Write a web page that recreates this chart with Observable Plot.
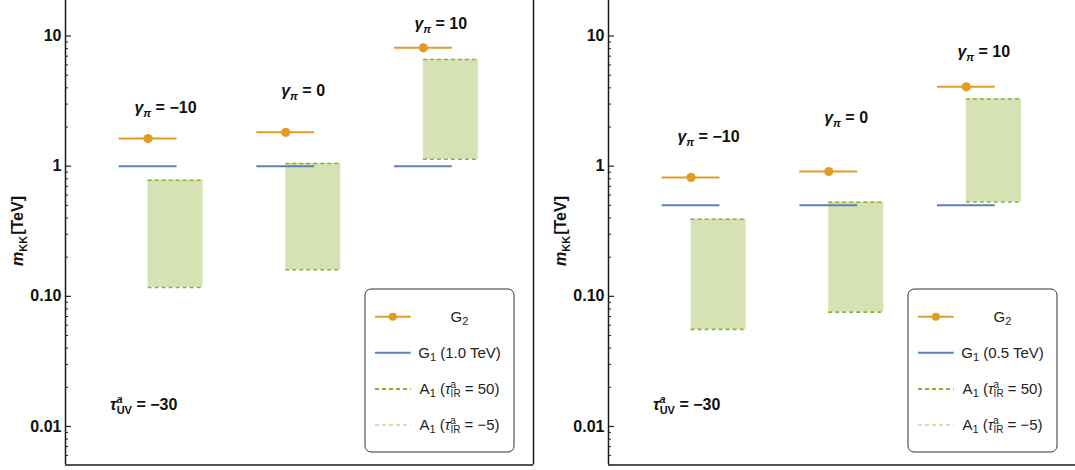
<!DOCTYPE html>
<html><head><meta charset="utf-8">
<script src="https://cdn.jsdelivr.net/npm/d3@7"></script>
<script src="https://cdn.jsdelivr.net/npm/@observablehq/plot@0.6"></script>
<style>
html,body{margin:0;padding:0;background:#fff;overflow:hidden;}
#wrap{position:relative;width:1075px;height:470px;overflow:hidden;}
#wrap svg{position:absolute;top:0;}
</style></head><body><div id="wrap"></div>
<script>
// ---- data ----
const gammaPi = [-10, 0, 10];
const groupX = [1, 2, 3];
const gammaLabels = ["−10", "0", "10"];

const leftG2 = [1.63, 1.82, 8.13];
const leftG1 = [1.0, 1.0, 1.0];
const leftA1top = [0.78, 1.05, 6.61];
const leftA1bot = [0.117, 0.160, 1.13];
const leftLabelY = [2.79, 3.8, 12.3];

const rightG2 = [0.819, 0.91, 4.07];
const rightG1 = [0.5, 0.5, 0.5];
const rightA1top = [0.391, 0.529, 3.28];
const rightA1bot = [0.0557, 0.0757, 0.531];
const rightLabelY = [1.68, 2.33, 7.57];

const majorTicks = [0.01, 0.1, 1, 10];
const majorTickLabels = ["0.01", "0.10", "1", "10"];
const minorTicks = [0.006, 0.007, 0.008, 0.009,
  0.02, 0.03, 0.04, 0.05, 0.06, 0.07, 0.08, 0.09,
  0.2, 0.3, 0.4, 0.5, 0.6, 0.7, 0.8, 0.9,
  2, 3, 4, 5, 6, 7, 8, 9];

const xDomain = [0.4, 3.8];
const yDomain = [0.00506, 18.75];
const tauUV = "−30";
const tauIR = ["50", "−5"];

// ---- style ----
const orange = "#E19C24", blue = "#5E81B5", green = "#8FB032", greenLight = "#A9C660";
const font = "'Liberation Sans', Arial, Helvetica, sans-serif";

function richText(g, x, y, parts, o = {}) {
  const t = g.append("text").attr("x", x).attr("y", y)
    .attr("text-anchor", o.anchor || "middle")
    .attr("font-size", o.size || 16)
    .attr("font-weight", o.weight || "bold")
    .attr("fill", o.fill || "#111")
    .attr("font-family", font);
  if (o.transform) t.attr("transform", o.transform);
  for (const p of parts) {
    const s = t.append("tspan").text(p.t);
    if (p.size) s.attr("font-size", p.size);
    if (p.italic) s.attr("font-style", "italic");
    if (p.weight) s.attr("font-weight", p.weight);
    if (p.dx) s.attr("dx", p.dx);
    if (p.dy) s.attr("dy", p.dy);
  }
  return t;
}

function makePanel(cfg) {
  const rows = groupX.map((x, i) => ({x, g2: cfg.g2[i], g1: cfg.g1[i], top: cfg.top[i], bot: cfg.bot[i], ly: cfg.labelY[i], gl: gammaLabels[i]}));
  const hw = 0.21, bw = 0.4;
  const frameW = cfg.width - cfg.marginLeft - cfg.marginRight;
  const plot = Plot.plot({
    width: cfg.width, height: 470,
    marginLeft: cfg.marginLeft, marginRight: cfg.marginRight, marginTop: 0, marginBottom: 5.5,
    style: {fontFamily: font, background: "transparent"},
    x: {type: "linear", domain: xDomain, axis: null},
    y: {type: "log", domain: yDomain, axis: null, label: null},
    marks: [
      Plot.rect(rows, {x1: "x", x2: d => d.x + bw, y1: "bot", y2: "top", fill: green, fillOpacity: 0.37}),
      Plot.ruleY(rows, {y: "bot", x1: "x", x2: d => d.x + bw, stroke: green, strokeWidth: 1.6, strokeDasharray: "4,3"}),
      Plot.ruleY(rows, {y: "top", x1: "x", x2: d => d.x + bw, stroke: green, strokeWidth: 1.5, strokeDasharray: "4,3"}),
      Plot.ruleY(rows, {y: "g1", x1: d => d.x - hw, x2: d => d.x + hw, stroke: blue, strokeWidth: 2}),
      Plot.ruleY(rows, {y: "g2", x1: d => d.x - hw, x2: d => d.x + hw, stroke: orange, strokeWidth: 2}),
      Plot.dot(rows, {x: "x", y: "g2", r: 4.6, fill: orange}),
      Plot.tickY(minorTicks, {y: d => d, stroke: "#222", strokeWidth: 1, insetRight: frameW - 3}),
      Plot.tickY(majorTicks, {y: d => d, stroke: "#222", strokeWidth: 1.2, insetRight: frameW - 6}),
      Plot.axisY(majorTicks, {tickSize: 0, tickPadding: 4, label: null,
        tickFormat: d => majorTickLabels[majorTicks.indexOf(d)],
        fontSize: 16, fontWeight: "bold", fill: "#111"}),
      Plot.ruleX(xDomain, {stroke: "#1a1a1a", strokeWidth: 1.5}),
      Plot.ruleY([yDomain[0]], {stroke: "#1a1a1a", strokeWidth: 1.5})
    ]
  });
  plot.style.left = cfg.left + "px";
  const sx = plot.scale("x"), sy = plot.scale("y");
  const g = d3.select(plot).append("g");
  const ax = cfg.marginLeft;

  // group labels
  rows.forEach(r => {
    richText(g, sx.apply(r.x + 0.13), sy.apply(r.ly) + 5.5, [
      {t: "γ", italic: true},
      {t: "π", italic: true, size: 11, dy: 4},
      {t: " = " + r.gl, dy: -4}
    ]);
  });

  // y label
  richText(g, 0, 0, [
    {t: "m", italic: true},
    {t: "KK", size: 11, dy: 4},
    {t: "[TeV]", dy: -4, dx: 1}
  ], {transform: `translate(${ax - 42},231) rotate(-90)`});

  // tau UV annotation
  richText(g, ax + 45, 410, [
    {t: "τ", italic: true},
    {t: "a", italic: true, size: 11, dy: -7},
    {t: "UV", size: 11, dx: -6, dy: 11},
    {t: " = " + tauUV, dy: -4}
  ], {anchor: "start"});

  // legend
  const bx = ax + 300, by = 289, bwid = 149, bh = 163;
  g.append("rect").attr("x", bx).attr("y", by).attr("width", bwid).attr("height", bh)
    .attr("rx", 6).attr("fill", "#fff").attr("stroke", "#333").attr("stroke-width", 1);
  const ly = [316.7, 352.7, 389, 425];
  const lx1 = bx + 10, lx2 = bx + 45.7, tx = bx + 94.5;
  g.append("line").attr("x1", lx1).attr("x2", lx2).attr("y1", ly[0]).attr("y2", ly[0]).attr("stroke", orange).attr("stroke-width", 2);
  g.append("circle").attr("cx", (lx1 + lx2) / 2).attr("cy", ly[0]).attr("r", 4).attr("fill", orange);
  g.append("line").attr("x1", lx1).attr("x2", lx2).attr("y1", ly[1]).attr("y2", ly[1]).attr("stroke", blue).attr("stroke-width", 2);
  g.append("line").attr("x1", lx1).attr("x2", lx2).attr("y1", ly[2]).attr("y2", ly[2]).attr("stroke", green).attr("stroke-width", 2).attr("stroke-dasharray", "4,3");
  g.append("line").attr("x1", lx1).attr("x2", lx2).attr("y1", ly[3]).attr("y2", ly[3]).attr("stroke", greenLight).attr("stroke-width", 1.2).attr("stroke-dasharray", "4,3");
  const lo = {size: 15, weight: "normal", fill: "#222"};
  richText(g, tx, ly[0] + 5, [{t: "G"}, {t: "2", size: 11, dy: 3}], lo);
  richText(g, tx, ly[1] + 5, [{t: "G"}, {t: "1", size: 11, dy: 3}, {t: " " + cfg.g1Label, dy: -3}], lo);
  tauIR.forEach((v, i) => {
    richText(g, tx, ly[2 + i] + 5, [
      {t: "A"}, {t: "1", size: 11, dy: 3}, {t: " (", dy: -3},
      {t: "τ", italic: true}, {t: "a", size: 10, dy: -6}, {t: "IR", size: 10, dx: -5.5, dy: 9},
      {t: " = " + v + ")", dy: -3}
    ], lo);
  });

  document.getElementById("wrap").appendChild(plot);
}

makePanel({left: 0, width: 540, marginLeft: 65, marginRight: 7,
  g2: leftG2, g1: leftG1, top: leftA1top, bot: leftA1bot, labelY: leftLabelY, g1Label: "(1.0 TeV)"});
makePanel({left: 540, width: 540, marginLeft: 68, marginRight: 4,
  g2: rightG2, g1: rightG1, top: rightA1top, bot: rightA1bot, labelY: rightLabelY, g1Label: "(0.5 TeV)"});
</script>
</body></html>
